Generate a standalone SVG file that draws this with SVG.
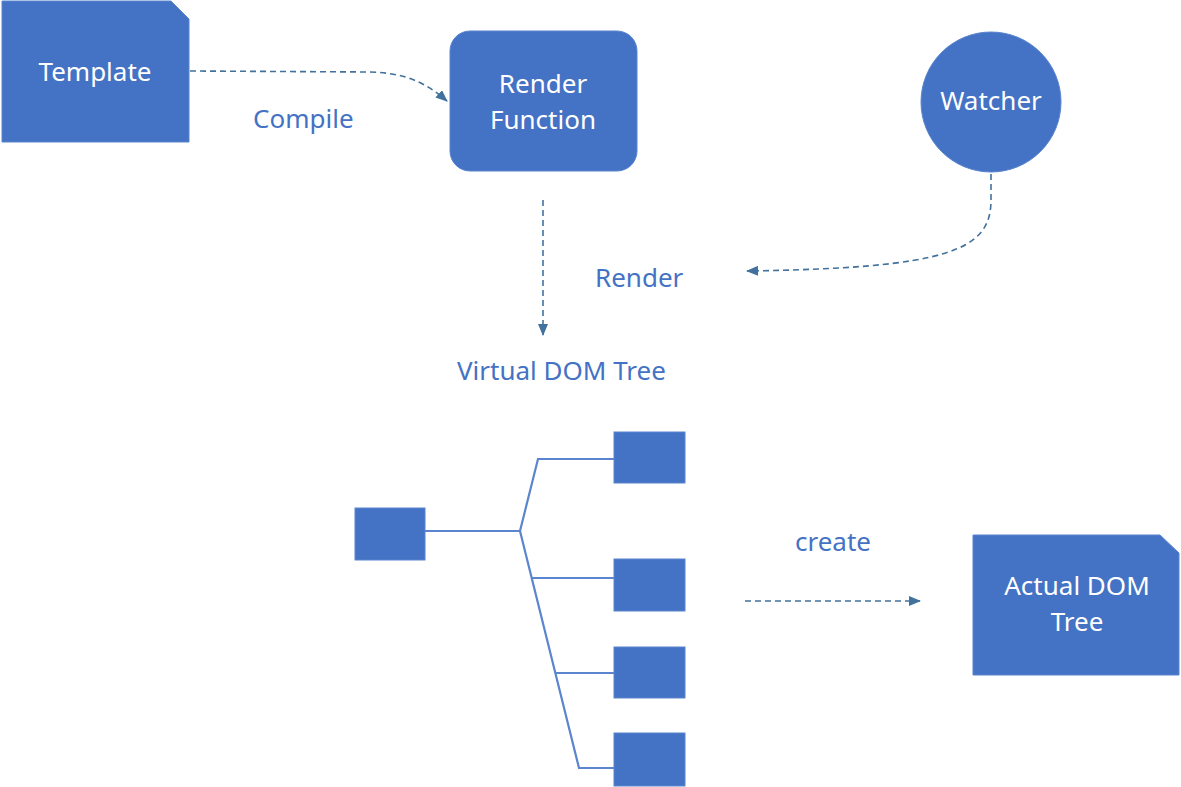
<svg xmlns="http://www.w3.org/2000/svg" width="1181" height="787" viewBox="0 0 1181 787">
<style>
.node{fill:#4472C4;stroke:#5B85CF;stroke-width:1}
.wt{font-family:"Noto Sans","Open Sans",sans-serif;font-size:26px;fill:#FFFFFF;text-anchor:middle}
.lbl{font-family:"Noto Sans","Open Sans",sans-serif;font-size:26px;fill:#4472C4}
.dash{fill:none;stroke:#41719C;stroke-width:1.6;stroke-dasharray:6 4}
.tree{fill:none;stroke:#5B85CF;stroke-width:2.2}
</style>
<defs>
<marker id="arr" viewBox="0 0 12 10" refX="11" refY="5" markerWidth="12" markerHeight="10" markerUnits="userSpaceOnUse" orient="auto">
<path d="M0,0 L12,5 L0,10 z" fill="#41719C"/>
</marker>
</defs>
<rect width="1181" height="787" fill="#FFFFFF"/>
<g id="connectors">
<path class="dash" d="M190,71 L370,72 C405,73 425,82 447,101" marker-end="url(#arr)"/>
<path class="dash" d="M543,200 L543,335" marker-end="url(#arr)"/>
<path class="dash" d="M991,174 L991,200 C991,250 950,268 747,271" marker-end="url(#arr)"/>
<path class="dash" d="M745,601 L920,601" marker-end="url(#arr)"/>
<path class="tree" d="M425,531 L520,531 M614,459 L538,459 L520,531 L579,768 L614,768 M532,578 L614,578 M556,673 L614,673"/>
</g>
<g id="template">
<path class="node" d="M2,1 L171,1 L189,19 L189,142 L2,142 z"/>
<text class="wt" x="95" y="81">Template</text>
</g>
<g id="render-function">
<rect class="node" x="450" y="31" width="187" height="140" rx="20" ry="20"/>
<text class="wt" x="543" y="93">Render</text>
<text class="wt" x="543" y="129">Function</text>
</g>
<g id="watcher">
<circle class="node" cx="991" cy="102" r="70"/>
<text class="wt" x="991" y="110">Watcher</text>
</g>
<g id="labels">
<text class="lbl" x="253" y="128">Compile</text>
<text class="lbl" x="595" y="287">Render</text>
<text class="lbl" x="457" y="380">Virtual DOM Tree</text>
<text class="lbl" x="795" y="551">create</text>
</g>
<g id="vroot"><rect class="node" x="355" y="508" width="70" height="52"/></g>
<g id="vchild1"><rect class="node" x="614" y="432" width="71" height="51"/></g>
<g id="vchild2"><rect class="node" x="614" y="559" width="71" height="52"/></g>
<g id="vchild3"><rect class="node" x="614" y="647" width="71" height="51"/></g>
<g id="vchild4"><rect class="node" x="614" y="733" width="71" height="53"/></g>
<g id="actual-dom">
<path class="node" d="M973,535 L1160,535 L1179,553 L1179,675 L973,675 z"/>
<text class="wt" x="1077" y="595">Actual DOM</text>
<text class="wt" x="1077" y="631">Tree</text>
</g>
</svg>
